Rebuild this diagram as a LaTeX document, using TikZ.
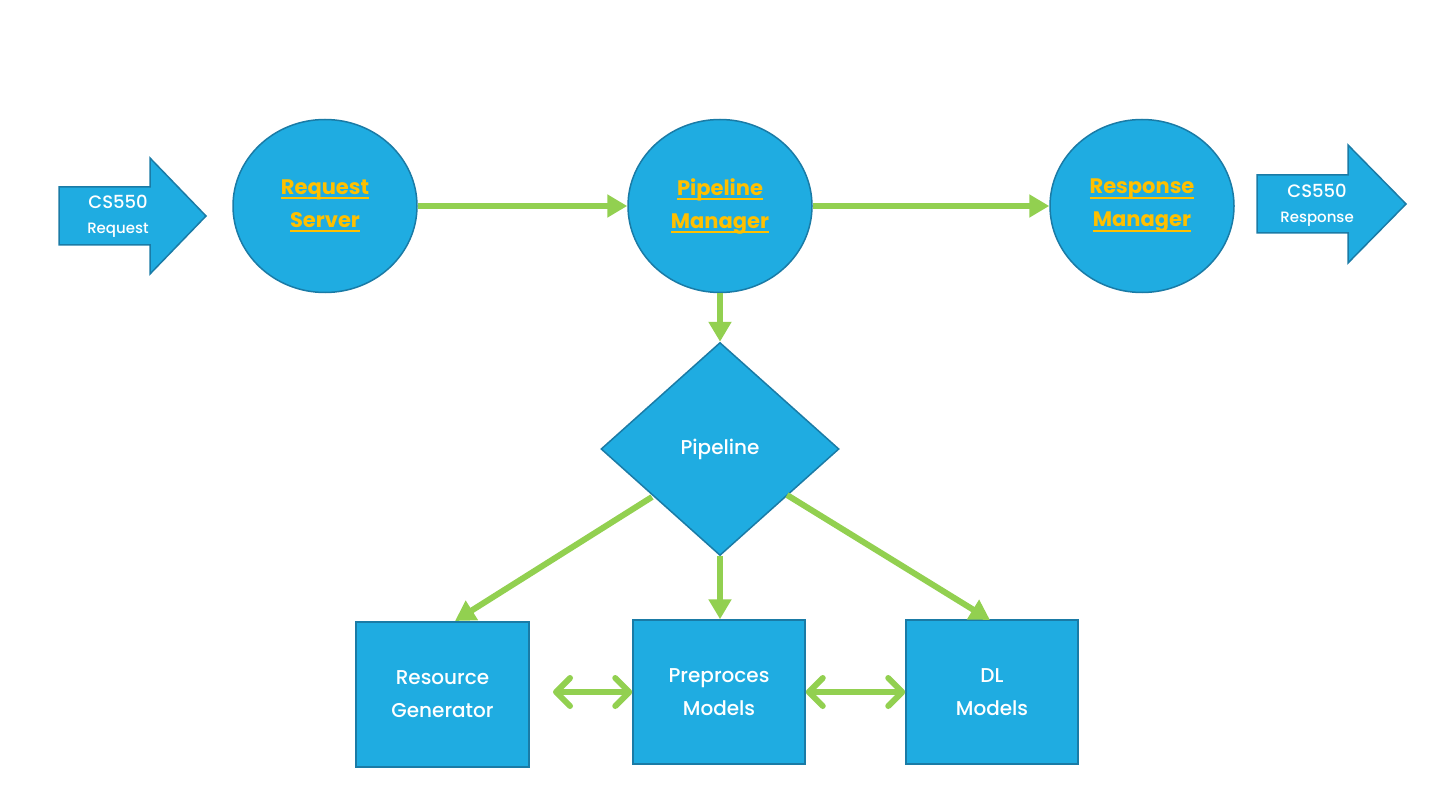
\documentclass[tikz,border=0pt]{standalone}
\usepackage{fontspec}
\setmainfont{Poppins}[UprightFont=* Medium, BoldFont=* Bold]
\usetikzlibrary{shapes.geometric,arrows.meta}
\definecolor{boxfill}{HTML}{1FACE1}
\definecolor{boxline}{HTML}{1A7BA6}
\definecolor{flowgreen}{HTML}{92D050}
\definecolor{linkyellow}{HTML}{FFC000}
\newcommand{\lnk}[1]{\textcolor{linkyellow}{\bfseries\setbox0\hbox{#1}\leavevmode\rlap{\raisebox{-5pt}{\rule{\wd0}{2pt}}}\box0}}
\tikzset{
  shapebase/.style={fill=boxfill, draw=boxline, line width=1.5pt, text=white, align=center, inner sep=0pt},
  circ/.style={shapebase, ellipse, minimum width=184pt, minimum height=173pt, font=\fontsize{21}{33}\selectfont},
  dia/.style={shapebase, diamond, minimum width=238pt, minimum height=213pt, font=\fontsize{20}{32}\selectfont},
  sqbox/.style={shapebase, rectangle, font=\fontsize{20}{33}\selectfont},
  flow/.style={draw=flowgreen, line width=6pt, -{Triangle[width=22pt,length=20pt]}},
  both/.style={draw=flowgreen, line width=6pt, line cap=round, {Straight Barb[length=14pt,width=28pt,round]}-{Straight Barb[length=14pt,width=28pt,round]}},
  bigarrow/.style={fill=boxfill, draw=boxline, line width=1.5pt, line join=miter},
  arrtext/.style={text=white, align=center, inner sep=0pt, font=\fontsize{15}{25}\selectfont}
}
\begin{document}
\begin{tikzpicture}[x=1pt,y=-1pt]
\useasboundingbox (0,0) rectangle (1440,810);
% left big arrow
\draw[bigarrow] (59,187) -- (150,187) -- (150,158) -- (206,216) -- (150,274) -- (150,245) -- (59,245) -- cycle;
\node[arrtext] (inarrow) at (118,216) {{\fontsize{18}{25}\selectfont CS550}\\Request};
% right big arrow
\draw[bigarrow] (1257,175) -- (1348,175) -- (1348,145) -- (1406,204) -- (1348,263) -- (1348,233) -- (1257,233) -- cycle;
\node[arrtext] (outarrow) at (1317,205) {{\fontsize{18}{25}\selectfont CS550}\\Response};
% circles
\node[circ] (rs) at (325,206) {\lnk{Request}\\\lnk{Server}};
\node[circ] (pm) at (720,206) {\lnk{Pipeline}\\\lnk{Manager}};
\node[circ] (rm) at (1142,206) {\lnk{Response}\\\lnk{Manager}};
% diamond
\node[dia] (pl) at (720,449) {Pipeline};
% boxes
\node[sqbox, minimum width=173pt, minimum height=145pt] (rg) at (442.5,694.5) {Resource\\Generator};
\node[sqbox, minimum width=172pt, minimum height=144pt] (pp) at (719,692) {Preproces\\Models};
\node[sqbox, minimum width=172pt, minimum height=144pt] (dl) at (992,692) {DL\\Models};
% connectors
\draw[flow] (rs.east) -- (pm.west);
\draw[flow] (pm.east) -- (rm.west);
\draw[flow] (pm.south) -- (pl.north);
\draw[flow] (pl.south) -- (pl.south |- pp.north);
\coordinate (lstart) at (652,497);
\coordinate (rstart) at (787,495);
\coordinate (rgtop) at (455,621);
\coordinate (dltop) at (990,620);
\draw[flow] (lstart) -- (rgtop);
\draw[flow] (rstart) -- (dltop);
\coordinate (lb) at (553,692);
\draw[both] (lb) -- (pp.west);
\draw[both] (pp.east) -- (dl.west);
\end{tikzpicture}
\end{document}
